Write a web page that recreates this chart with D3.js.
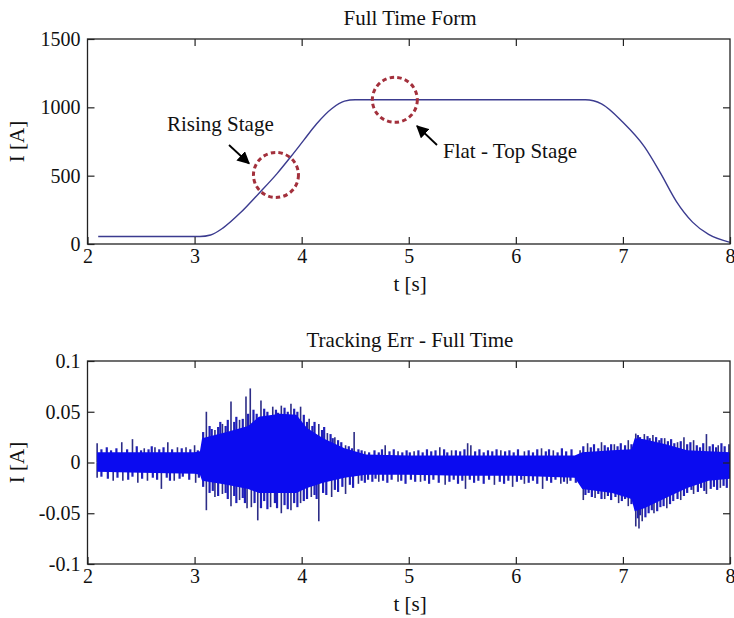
<!DOCTYPE html>
<html>
<head>
<meta charset="utf-8">
<script src="https://cdn.jsdelivr.net/npm/d3@7"></script>
<style>
  body { margin: 0; background: #fff; }
  svg text { font-family: "Liberation Serif", "Times New Roman", serif; fill: #111; }
  .axis path { display: none; }
  .axis line { stroke: #222; stroke-width: 1.2; }
  .axis text { font-size: 20px; }
</style>
</head>
<body>
<div id="chart"></div>
<script>
// ---- data ----
// top plot: full time current form
const curveT = [2.1, 3.05, 3.15, 3.27, 3.43, 3.60, 3.77, 3.90, 4.02, 4.14, 4.28, 4.40, 4.50, 6.65, 6.80, 7.00, 7.20, 7.35, 7.50, 7.65, 7.80, 8.0]
const curveI = [55, 55, 66, 120, 230, 370, 515, 640, 760, 880, 990, 1045, 1055, 1055, 1025, 890, 712, 520, 310, 160, 70, 12]

// bottom plot: tracking error, dense core band (upper / lower edge)
const bandT  = [2.09, 2.5, 3.0, 3.05, 3.07, 3.3, 3.5, 3.6, 3.8, 3.95, 4.05, 4.2, 4.4, 4.6, 5.0, 5.5, 6.0, 6.55, 6.62, 6.9, 7.08, 7.11, 7.2, 7.4, 7.6, 7.8, 8.0]
const bandHi = [.010, .010, .010, .011, .024, .030, .036, .045, .048, .047, .034, .024, .014, .008, .007, .007, .007, .007, .010, .012, .013, .024, .023, .018, .012, .011, .010]
const bandLo = [-.009, -.010, -.011, -.012, -.018, -.022, -.026, -.030, -.030, -.030, -.025, -.020, -.015, -.012, -.012, -.013, -.013, -.015, -.026, -.030, -.036, -.048, -.045, -.035, -.025, -.018, -.016]

// tall spikes sticking out of the band [t, value]
const upSpikes = [[2.09,.019],[2.32,.020],[2.42,.023],[2.53,.014],[2.63,.015],[2.75,.020],[2.84,.015],[2.92,.015],[3.00,.017],
  [3.11,.050],[3.19,.032],[3.26,.038],[3.34,.060],[3.42,.042],[3.48,.065],[3.52,.073],[3.62,.061],[3.73,.055],[3.81,.056],
  [3.90,.058],[3.99,.055],[4.07,.043],[4.16,.038],[4.24,.029],[4.31,.025],[4.41,.017],[4.49,.030],[4.59,.011],[4.78,.017],
  [4.90,.011],[5.05,.011],[5.29,.015],[5.40,.012],[5.55,.019],[5.58,.017],[5.86,.012],[6.08,.011],[6.24,.014],[6.35,.012],
  [6.60,.012],[6.67,.019],[6.80,.020],[6.92,.018],[7.05,.022],[7.12,.0285],[7.20,.028],[7.28,.027],[7.39,.024],[7.51,.020],
  [7.57,.025],[7.66,.022],[7.78,.028],[7.89,.017],[7.99,.018]]
const downSpikes = [[2.09,-.015],[2.24,-.018],[2.33,-.018],[2.47,-.020],[2.56,-.018],[2.69,-.026],[2.81,-.018],[3.01,-.020],
  [3.11,-.047],[3.19,-.034],[3.26,-.031],[3.34,-.043],[3.42,-.037],[3.49,-.045],[3.53,-.044],[3.59,-.057],[3.71,-.044],
  [3.81,-.050],[3.90,-.047],[3.99,-.040],[4.09,-.034],[4.16,-.058],[4.28,-.034],[4.41,-.031],[4.53,-.021],[4.72,-.019],
  [4.90,-.019],[5.11,-.019],[5.34,-.022],[5.53,-.026],[5.80,-.022],[5.97,-.024],[6.08,-.021],[6.25,-.026],[6.42,-.021],
  [6.48,-.021],[6.63,-.037],[6.74,-.035],[6.83,-.036],[6.96,-.040],[7.05,-.043],[7.12,-.063],[7.15,-.065],[7.18,-.058],
  [7.29,-.050],[7.41,-.045],[7.54,-.037],[7.66,-.031],[7.78,-.031],[7.91,-.025]]

// short "grass" on the band edges [t, value]
const upGrass = [[2.13,.013],[2.18,.015],[2.22,.012],[2.27,.014],[2.37,.013],[2.46,.016],[2.50,.012],[2.57,.013],[2.60,.016],
  [2.67,.013],[2.71,.015],[2.79,.013],[2.88,.014],[2.96,.013],[3.03,.012],
  [3.08,.030],[3.14,.036],[3.16,.033],[3.22,.035],[3.24,.040],[3.29,.036],[3.31,.042],[3.37,.040],[3.39,.045],[3.45,.043],[3.50,.048],
  [3.55,.052],[3.58,.048],[3.65,.053],[3.68,.050],[3.76,.052],[3.78,.049],[3.84,.054],[3.87,.050],[3.93,.053],[3.96,.050],[4.02,.047],
  [4.05,.040],[4.10,.036],[4.12,.040],[4.19,.032],[4.21,.035],[4.27,.028],[4.29,.024],[4.34,.022],[4.37,.020],[4.44,.016],[4.47,.014],
  [4.53,.013],[4.56,.012],
  [4.63,.010],[4.68,.012],[4.72,.010],[4.75,.013],[4.82,.011],[4.86,.013],[4.94,.010],[4.98,.012],[5.01,.010],[5.09,.012],[5.13,.010],
  [5.17,.013],[5.21,.011],[5.25,.012],[5.33,.013],[5.36,.010],[5.44,.012],[5.48,.011],[5.52,.013],[5.62,.011],[5.66,.013],[5.70,.010],
  [5.74,.012],[5.78,.011],[5.82,.013],[5.90,.011],[5.94,.012],[5.98,.010],[6.02,.013],[6.12,.012],[6.16,.010],[6.20,.013],[6.28,.011],
  [6.31,.013],[6.39,.010],[6.43,.014],[6.47,.011],[6.52,.013],
  [6.63,.016],[6.70,.015],[6.73,.018],[6.77,.014],[6.83,.017],[6.86,.015],[6.89,.018],[6.95,.016],[6.98,.019],[7.02,.017],[7.08,.018],
  [7.14,.027],[7.16,.025],[7.23,.026],[7.25,.024],[7.31,.025],[7.34,.022],[7.36,.024],[7.42,.021],[7.45,.023],[7.48,.019],[7.54,.021],
  [7.60,.018],[7.63,.020],[7.69,.017],[7.72,.015],[7.75,.019],[7.81,.016],[7.84,.018],[7.87,.015],[7.92,.019],[7.95,.016]]
const downGrass = [[2.13,-.014],[2.19,-.016],[2.28,-.015],[2.38,-.017],[2.42,-.014],[2.51,-.016],[2.61,-.015],[2.65,-.017],[2.74,-.015],
  [2.77,-.018],[2.86,-.016],[2.89,-.014],[2.95,-.017],[3.04,-.015],
  [3.08,-.024],[3.14,-.030],[3.17,-.028],[3.22,-.033],[3.29,-.030],[3.31,-.036],[3.37,-.033],[3.39,-.040],[3.45,-.035],[3.47,-.040],
  [3.56,-.040],[3.62,-.045],[3.65,-.038],[3.68,-.046],[3.75,-.040],[3.77,-.045],[3.84,-.042],[3.87,-.046],[3.93,-.040],[3.96,-.044],
  [4.02,-.038],[4.05,-.036],[4.12,-.032],[4.14,-.036],[4.20,-.030],[4.23,-.032],[4.31,-.027],[4.34,-.029],[4.38,-.024],[4.45,-.022],
  [4.48,-.025],[4.56,-.018],[4.59,-.020],
  [4.62,-.017],[4.66,-.019],[4.69,-.016],[4.76,-.018],[4.80,-.020],[4.84,-.017],[4.93,-.018],[4.97,-.021],[5.02,-.017],[5.06,-.019],
  [5.15,-.018],[5.19,-.021],[5.23,-.017],[5.28,-.020],[5.38,-.019],[5.42,-.017],[5.46,-.021],[5.50,-.018],[5.57,-.017],[5.61,-.020],
  [5.65,-.018],[5.70,-.021],[5.75,-.017],[5.85,-.019],[5.89,-.021],[5.93,-.018],[6.01,-.019],[6.05,-.017],[6.12,-.020],[6.16,-.018],
  [6.20,-.021],[6.29,-.018],[6.33,-.020],[6.37,-.017],[6.45,-.019],[6.51,-.018],[6.56,-.020],
  [6.65,-.032],[6.68,-.030],[6.71,-.034],[6.77,-.031],[6.80,-.036],[6.86,-.033],[6.89,-.037],[6.93,-.034],[6.99,-.038],[7.02,-.036],
  [7.08,-.041],[7.14,-.055],[7.16,-.052],[7.21,-.054],[7.24,-.050],[7.27,-.047],[7.32,-.048],[7.35,-.044],[7.38,-.043],[7.44,-.041],
  [7.47,-.038],[7.51,-.036],[7.57,-.033],[7.60,-.030],[7.64,-.027],[7.70,-.029],[7.73,-.025],[7.76,-.028],[7.82,-.026],[7.85,-.024],
  [7.88,-.027],[7.94,-.023],[7.97,-.025]]

const xTicks = [2, 3, 4, 5, 6, 7, 8]
const topYTicks = [0, 500, 1000, 1500]
const botYTicks = [-0.1, -0.05, 0, 0.05, 0.1]

// ---- layout ----
const W = 734, H = 618
const left = 87.5, right = 730
const tickLen = 7

svg = d3.select("#chart").append("svg")
        .attr("width", W)
        .attr("height", H)

x = d3.scaleLinear().domain([2, 8]).range([left, right])

function frame(g, y, yTicks, yFmt, top, bottom, title){
    // box
    g.append("rect")
     .attr("x", left).attr("y", top)
     .attr("width", right - left).attr("height", bottom - top)
     .attr("fill", "none")
     .attr("stroke", "#222")
     .attr("stroke-width", 1.3)

    g.append("g").attr("class", "axis")
     .attr("transform", `translate(0,${bottom})`)
     .call(d3.axisBottom(x).tickValues(xTicks).tickFormat(d3.format("d"))
             .tickSizeInner(-tickLen).tickSizeOuter(0).tickPadding(5))
    g.append("g").attr("class", "axis")
     .attr("transform", `translate(0,${top})`)
     .call(d3.axisTop(x).tickValues(xTicks.slice(1, -1)).tickFormat("")
             .tickSizeInner(-tickLen).tickSizeOuter(0))
    g.append("g").attr("class", "axis")
     .attr("transform", `translate(${left},0)`)
     .call(d3.axisLeft(y).tickValues(yTicks).tickFormat(yFmt)
             .tickSizeInner(-tickLen).tickSizeOuter(0).tickPadding(7))
    g.append("g").attr("class", "axis")
     .attr("transform", `translate(${right},0)`)
     .call(d3.axisRight(y).tickValues(yTicks.slice(1, -1)).tickFormat("")
             .tickSizeInner(-tickLen).tickSizeOuter(0))

    g.append("text")
     .attr("x", 410).attr("y", top - 14)
     .attr("text-anchor", "middle")
     .style("font-size", "21px")
     .text(title)
    g.append("text")
     .attr("x", 410).attr("y", bottom + 47)
     .attr("text-anchor", "middle")
     .style("font-size", "21px")
     .text("t [s]")
    g.append("text")
     .attr("transform", `translate(24,${(top + bottom) / 2}) rotate(-90)`)
     .attr("text-anchor", "middle")
     .style("font-size", "21px")
     .text("I [A]")
}

// ---- top plot ----
const topTop = 39, topBottom = 244
yTop = d3.scaleLinear().domain([0, 1500]).range([topBottom, topTop])
gTop = svg.append("g")

gTop.append("path")
    .datum(curveT.map((t, i) => [t, curveI[i]]))
    .attr("fill", "none")
    .attr("stroke", "#3b3b8f")
    .attr("stroke-width", 1.4)
    .attr("d", d3.line().x(d => x(d[0])).y(d => yTop(d[1])).curve(d3.curveMonotoneX))

frame(gTop, yTop, topYTicks, d3.format("d"), topTop, topBottom, "Full Time Form")

// annotations
arrowHead = svg.append("defs").append("marker")
    .attr("id", "head")
    .attr("viewBox", "0 0 10 10")
    .attr("refX", 9).attr("refY", 5)
    .attr("markerWidth", 7).attr("markerHeight", 7)
    .attr("markerUnits", "strokeWidth")
    .attr("orient", "auto")
arrowHead.append("path").attr("d", "M0,0 L10,5 L0,10 z").attr("fill", "#000")

const circles = [[3.76, 505], [4.87, 1055]]
gTop.selectAll(".ring")
    .data(circles)
    .join("circle")
    .attr("class", "ring")
    .attr("cx", d => x(d[0]))
    .attr("cy", d => yTop(d[1]))
    .attr("r", 22.5)
    .attr("fill", "none")
    .attr("stroke", "#a3303c")
    .attr("stroke-width", 3)
    .attr("stroke-dasharray", "4.5,3.2")

gTop.append("line")
    .attr("x1", 229).attr("y1", 145).attr("x2", 249).attr("y2", 163.5)
    .attr("stroke", "#000").attr("stroke-width", 1.8)
    .attr("marker-end", "url(#head)")
gTop.append("line")
    .attr("x1", 437).attr("y1", 145).attr("x2", 417).attr("y2", 126)
    .attr("stroke", "#000").attr("stroke-width", 1.8)
    .attr("marker-end", "url(#head)")

gTop.append("text").attr("x", 167).attr("y", 131)
    .style("font-size", "21px").text("Rising Stage")
gTop.append("text").attr("x", 443).attr("y", 158)
    .style("font-size", "21px").text("Flat - Top Stage")

// ---- bottom plot ----
const botTop = 361, botBottom = 564
yBot = d3.scaleLinear().domain([-0.1, 0.1]).range([botBottom, botTop])
gBot = svg.append("g")

// spikes first, core band covers their roots
gBot.selectAll(".grass")
    .data(upGrass.concat(downGrass))
    .join("line")
    .attr("class", "grass")
    .attr("x1", d => x(d[0])).attr("x2", d => x(d[0]))
    .attr("y1", yBot(0)).attr("y2", d => yBot(d[1]))
    .attr("stroke", "#1f1fb8")
    .attr("stroke-width", 2.2)
gBot.selectAll(".spike")
    .data(upSpikes.concat(downSpikes))
    .join("line")
    .attr("class", "spike")
    .attr("x1", d => x(d[0])).attr("x2", d => x(d[0]))
    .attr("y1", yBot(0)).attr("y2", d => yBot(d[1]))
    .attr("stroke", "#2c2c86")
    .attr("stroke-width", 1.6)

gBot.append("path")
    .datum(bandT.map((t, i) => [t, bandHi[i], bandLo[i]]))
    .attr("fill", "#0b0bf0")
    .attr("d", d3.area().x(d => x(d[0])).y0(d => yBot(d[2])).y1(d => yBot(d[1])))

frame(gBot, yBot, botYTicks, d => d === 0 ? "0" : String(d), botTop, botBottom, "Tracking Err - Full Time")
</script>
</body>
</html>
